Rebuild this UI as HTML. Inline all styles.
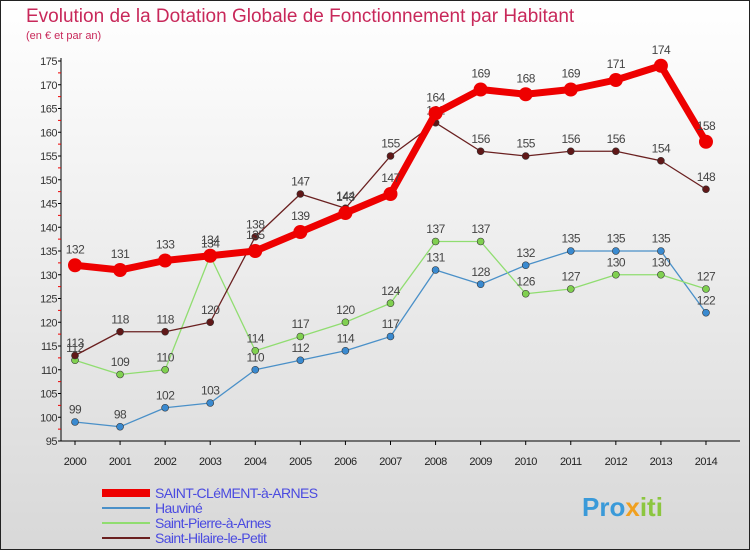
<!DOCTYPE html>
<html><head><meta charset="utf-8"><style>
body{margin:0;width:750px;height:550px;overflow:hidden;font-family:"Liberation Sans",sans-serif}
</style></head><body>
<svg width="750" height="550" xmlns="http://www.w3.org/2000/svg">
<defs><linearGradient id="bg" x1="0" y1="0" x2="0" y2="1"><stop offset="0" stop-color="#ffffff"/><stop offset="1" stop-color="#d8d8d8"/></linearGradient></defs>
<rect x="0.5" y="0.5" width="749" height="549" fill="url(#bg)" stroke="#222"/>
<text x="26" y="22" font-size="19" fill="#c8285a">Evolution de la Dotation Globale de Fonctionnement par Habitant</text>
<text x="26" y="39" font-size="11" fill="#c8285a">(en € et par an)</text>
<g id="axes"></g>
<g id="series"></g>
<g id="legend"></g>
<text x="582" y="516" font-size="26" font-weight="bold" fill="#3a9ad9">Pro<tspan fill="#f0a020">x</tspan><tspan fill="#8cc63f">iti</tspan></text>
</svg>
<script>
const years=[2000,2001,2002,2003,2004,2005,2006,2007,2008,2009,2010,2011,2012,2013,2014];
const stClement=[132,131,133,134,135,139,143,147,164,169,168,169,171,174,158];
const hauvine=[99,98,102,103,110,112,114,117,131,128,132,135,135,135,122];
const stPierre=[112,109,110,134,114,117,120,124,137,137,126,127,130,130,127];
const stHilaire=[113,118,118,120,138,147,144,155,162,156,155,156,156,154,148];
const yTicks=[95,100,105,110,115,120,125,130,135,140,145,150,155,160,165,170,175];
const NS="http://www.w3.org/2000/svg";
const X=i=>75+i*45.07, Y=v=>441-(v-95)*4.75;
function mk(p,t,a){const e=document.createElementNS(NS,t);for(const k in a)e.setAttribute(k,a[k]);p.appendChild(e);return e;}
const ax=document.getElementById('axes');
let l=mk(ax,'line',{x1:61,y1:58,x2:61,y2:441,stroke:'#000'});


l=mk(ax,'line',{x1:61,y1:441,x2:740,y2:441,stroke:'#000'});


yTicks.forEach(v=>{
 const t=mk(ax,'text',{x:57,y:Y(v)+4,'font-size':11,fill:'#333','text-anchor':'end','letter-spacing':'-0.5'});
 t.textContent=v;
 
 
 mk(ax,'line',{x1:58,y1:Y(v),x2:61,y2:Y(v),stroke:'#000'});
 if(v<175)mk(ax,'line',{x1:58,y1:Y(v+2.5),x2:61,y2:Y(v+2.5),stroke:'#e00'});
});
years.forEach((y,i)=>{
 const t=mk(ax,'text',{x:X(i),y:465,'font-size':11,fill:'#222','text-anchor':'middle','letter-spacing':'-0.5'});
 t.textContent=y;
 
 
 mk(ax,'line',{x1:X(i),y1:441,x2:X(i),y2:445,stroke:'#000'});
});
const sg=document.getElementById('series');
function draw(vals,color,w,r,dot,name){
 const g=mk(sg,'g',{});
 
 
 const p=mk(g,'polyline',{points:vals.map((v,i)=>X(i)+','+Y(v)).join(' '),fill:'none',stroke:color,'stroke-width':w,'stroke-linejoin':'round'});
 
 
 vals.forEach((v,i)=>{
  const c=mk(g,'circle',{cx:X(i),cy:Y(v),r:r,fill:dot,stroke:'#333','stroke-width':r>5?0:0.6});
  
  
  const t=mk(g,'text',{x:X(i),y:Y(v)-r-5,'font-size':12,fill:'#444','text-anchor':'middle','letter-spacing':'-0.5'});
  t.textContent=v;
  
  
 });
}
draw(hauvine,'#4a90c8',1.3,3.5,'#3a8ad0','hauvine');
draw(stPierre,'#90dd70',1.3,3.5,'#80d050','saint-pierre');
draw(stHilaire,'#6a2020',1.3,3.5,'#601818','saint-hilaire');
draw(stClement,'#ee0000',7,7,'#ee0000','saint-clement');
const lg=document.getElementById('legend');
const leg=[['SAINT-CLéMENT-à-ARNES','#ee0000',8],['Hauviné','#4a90c8',2],['Saint-Pierre-à-Arnes','#90dd70',2],['Saint-Hilaire-le-Petit','#6a2020',2]];
leg.forEach((e,i)=>{
 const y=493+i*15;
 const ln=mk(lg,'line',{x1:102,y1:y,x2:150,y2:y,stroke:e[1],'stroke-width':e[2]});
 
 
 const t=mk(lg,'text',{x:155,y:y+5,'font-size':14,fill:'#4a4ae0','letter-spacing':'-0.6'});
 t.textContent=e[0];
 
 
});
</script>
</body></html>
